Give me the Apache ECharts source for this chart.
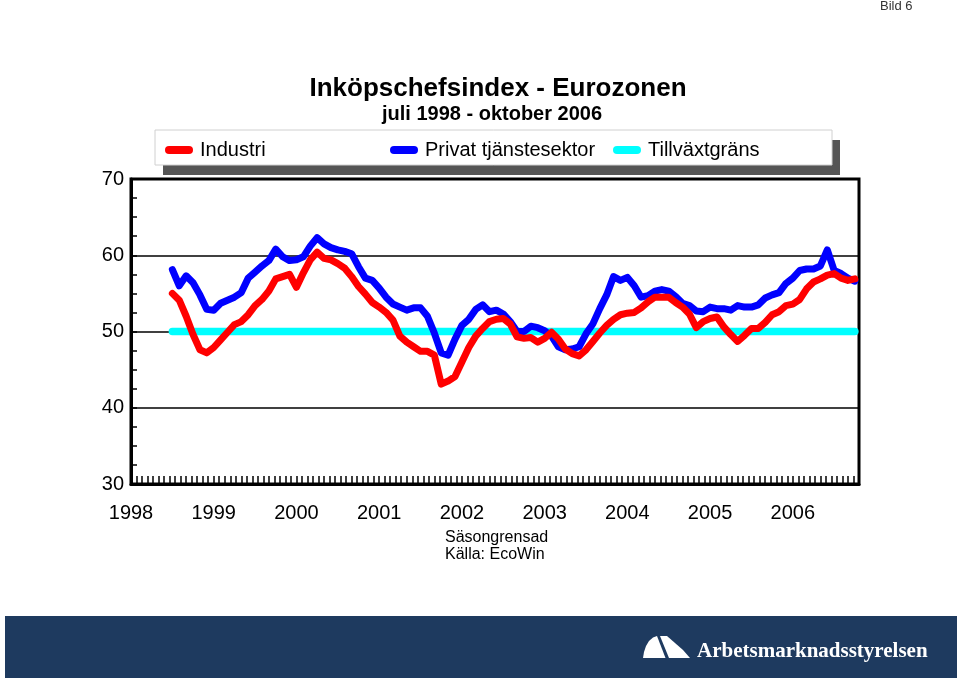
<!DOCTYPE html>
<html><head><meta charset="utf-8">
<script src="https://cdn.jsdelivr.net/npm/echarts@6/dist/echarts.min.js"></script>
<style>html,body{margin:0;padding:0;background:#fff}#c{width:960px;height:681px}</style>
</head><body><div id="c"></div>
<script>
// x axis: months counted from January 1998
const startYear = 1998;
const firstMonth = 6;            // juli 1998
const yearLabels = ['1998','1999','2000','2001','2002','2003','2004','2005','2006'];

const industri = [
 55.0,54.1,52.0,49.6,47.6,47.2,47.9,48.9,49.9,50.9,51.3,52.2,
 53.4,54.2,55.3,56.9,57.2,57.5,55.8,57.7,59.4,60.4,59.6,59.4,
 58.9,58.3,57.2,55.9,54.9,53.8,53.2,52.5,51.5,49.4,48.6,48.0,
 47.4,47.4,46.9,43.1,43.5,44.1,46.0,47.9,49.4,50.4,51.3,51.6,
 51.7,51.0,49.3,49.1,49.2,48.6,49.1,49.9,49.0,47.7,47.1,46.8,
 47.6,48.7,49.8,50.8,51.6,52.2,52.4,52.5,53.1,53.9,54.5,54.5,
 54.5,53.8,53.2,52.3,50.5,51.3,51.7,51.9,50.6,49.6,48.7,49.5,
 50.4,50.4,51.2,52.2,52.6,53.4,53.6,54.2,55.6,56.5,56.9,57.4,
 57.6,57.0,56.7,56.9
];
const privatTjanst = [
 58.1,56.0,57.3,56.4,54.8,52.9,52.8,53.7,54.1,54.5,55.1,57.0,
 57.8,58.6,59.3,60.8,59.8,59.3,59.4,59.8,61.2,62.3,61.5,61.0,
 60.7,60.5,60.2,58.5,57.0,56.7,55.7,54.5,53.6,53.2,52.8,53.1,
 53.1,52.0,49.8,47.2,46.9,49.0,50.8,51.6,52.9,53.5,52.6,52.8,
 52.3,51.3,50.0,50.0,50.7,50.5,50.1,49.4,48.0,47.6,47.7,48.0,
 49.7,51.0,53.0,54.8,57.2,56.7,57.1,56.0,54.5,54.7,55.3,55.5,
 55.3,54.6,53.7,53.4,52.7,52.6,53.2,53.0,53.0,52.8,53.4,53.2,
 53.2,53.5,54.4,54.8,55.1,56.3,57.0,58.0,58.2,58.2,58.6,60.7,
 58.0,57.6,57.0,56.6
];
const tillvaxtMonths = [6, 105];
const tillvaxtgrans = [50, 50];

const FONT = 'Liberation Sans, Arial, sans-serif';
const toPairs = (vals, m0) => vals.map((v, i) => [m0 + i, v]);
const capsule = 'path://M4,0 L24,0 A4,4 0 0 1 24,8 L4,8 A4,4 0 0 1 4,0 Z';

const chart = echarts.init(document.getElementById('c'), null, {renderer: 'canvas'});
const legendBase = {
  icon: capsule, itemWidth: 28, itemHeight: 8, padding: 0, itemGap: 0, selectedMode: false,
  textStyle: {fontSize: 20, color: '#000', fontFamily: FONT, padding: [0, 0, 0, 2]}
};
chart.setOption({
  animation: false,
  backgroundColor: '#fff',
  textStyle: {fontFamily: FONT},
  grid: {left: 131, top: 179, width: 728, height: 305, show: true, borderColor: '#000', borderWidth: 3, containLabel: false},
  legend: [
    Object.assign({data: ['Industri'], left: 165, top: 140}, legendBase),
    Object.assign({data: ['Privat tjänstesektor'], left: 390, top: 140}, legendBase),
    Object.assign({data: ['Tillväxtgräns'], left: 613, top: 140}, legendBase)
  ],
  xAxis: {
    type: 'value', min: 0, max: 105.6, interval: 12,
    axisLine: {show: true, lineStyle: {color: '#000', width: 3}},
    axisTick: {show: true, inside: true, length: 8, lineStyle: {color: '#000', width: 1.5}},
    minorTick: {show: true, splitNumber: 15, length: 8, lineStyle: {color: '#000', width: 1.5}},
    splitLine: {show: false},
    axisLabel: {
      fontSize: 20, color: '#000', margin: 19, fontFamily: FONT, showMaxLabel: false,
      formatter: v => (Math.abs(v % 12) < 1e-6 && v / 12 < yearLabels.length) ? yearLabels[Math.round(v / 12)] : ''
    }
  },
  yAxis: {
    type: 'value', min: 30, max: 70, interval: 10,
    axisLine: {show: true, lineStyle: {color: '#000', width: 3}},
    axisTick: {show: true, inside: true, length: 6, lineStyle: {color: '#000', width: 1.5}},
    minorTick: {show: true, splitNumber: 4, length: 6, lineStyle: {color: '#000', width: 1.5}},
    splitLine: {show: true, lineStyle: {color: '#000', width: 1.5}},
    axisLabel: {fontSize: 20, color: '#000', margin: 7, fontFamily: FONT}
  },
  series: [
    {name: 'Tillväxtgräns', type: 'line', z: 2, symbol: 'none', silent: true,
     data: tillvaxtMonths.map((m, i) => [m, tillvaxtgrans[i]]),
     itemStyle: {color: '#00FFFF'}, lineStyle: {color: '#00FFFF', width: 7.5, cap: 'round', join: 'round'}},
    {name: 'Privat tjänstesektor', type: 'line', z: 3, symbol: 'none', silent: true,
     data: toPairs(privatTjanst, firstMonth),
     itemStyle: {color: '#0000FF'}, lineStyle: {color: '#0000FF', width: 7, cap: 'round', join: 'round'}},
    {name: 'Industri', type: 'line', z: 4, symbol: 'none', silent: true,
     data: toPairs(industri, firstMonth),
     itemStyle: {color: '#FF0000'}, lineStyle: {color: '#FF0000', width: 7, cap: 'round', join: 'round'}}
  ],
  graphic: [
    {type: 'text', x: 880, y: 6, z: 1, style: {text: 'Bild 6', fill: '#333', font: '13px ' + FONT, textVerticalAlign: 'middle'}},
    {type: 'text', x: 498, y: 89, z: 1, style: {text: 'Inköpschefsindex - Eurozonen', fill: '#000', font: 'bold 26px ' + FONT, textAlign: 'center', textVerticalAlign: 'middle'}},
    {type: 'text', x: 492, y: 114, z: 1, style: {text: 'juli 1998 - oktober 2006', fill: '#000', font: 'bold 20px ' + FONT, textAlign: 'center', textVerticalAlign: 'middle'}},
    {type: 'rect', z: 0, shape: {x: 163, y: 140, width: 677, height: 35}, style: {fill: '#555'}},
    {type: 'rect', z: 1, shape: {x: 155, y: 130, width: 677, height: 35}, style: {fill: '#fff', stroke: '#d0d0d0', lineWidth: 1}},
    {type: 'text', x: 445, y: 538, z: 1, style: {text: 'Säsongrensad', fill: '#000', font: '16px ' + FONT, textVerticalAlign: 'middle'}},
    {type: 'text', x: 445, y: 555, z: 1, style: {text: 'Källa: EcoWin', fill: '#000', font: '16px ' + FONT, textVerticalAlign: 'middle'}},
    {type: 'rect', z: 0, shape: {x: 5, y: 616, width: 952, height: 62}, style: {fill: '#1e3a5f'}},
    {type: 'polygon', z: 1, shape: {points: [[643,658],[644,652],[646,646],[649,641],[653,637.5],[657,636],[665.5,658]]}, style: {fill: '#fff'}},
    {type: 'polygon', z: 1, shape: {points: [[660,636],[667,636],[675,643],[683,650],[690,658],[669,658]]}, style: {fill: '#fff'}},
    {type: 'text', x: 697, y: 652, z: 1, style: {text: 'Arbetsmarknadsstyrelsen', fill: '#fff', font: 'bold 21px Liberation Serif, Times New Roman, serif', textVerticalAlign: 'middle'}}
  ]
});
</script>
</body></html>
